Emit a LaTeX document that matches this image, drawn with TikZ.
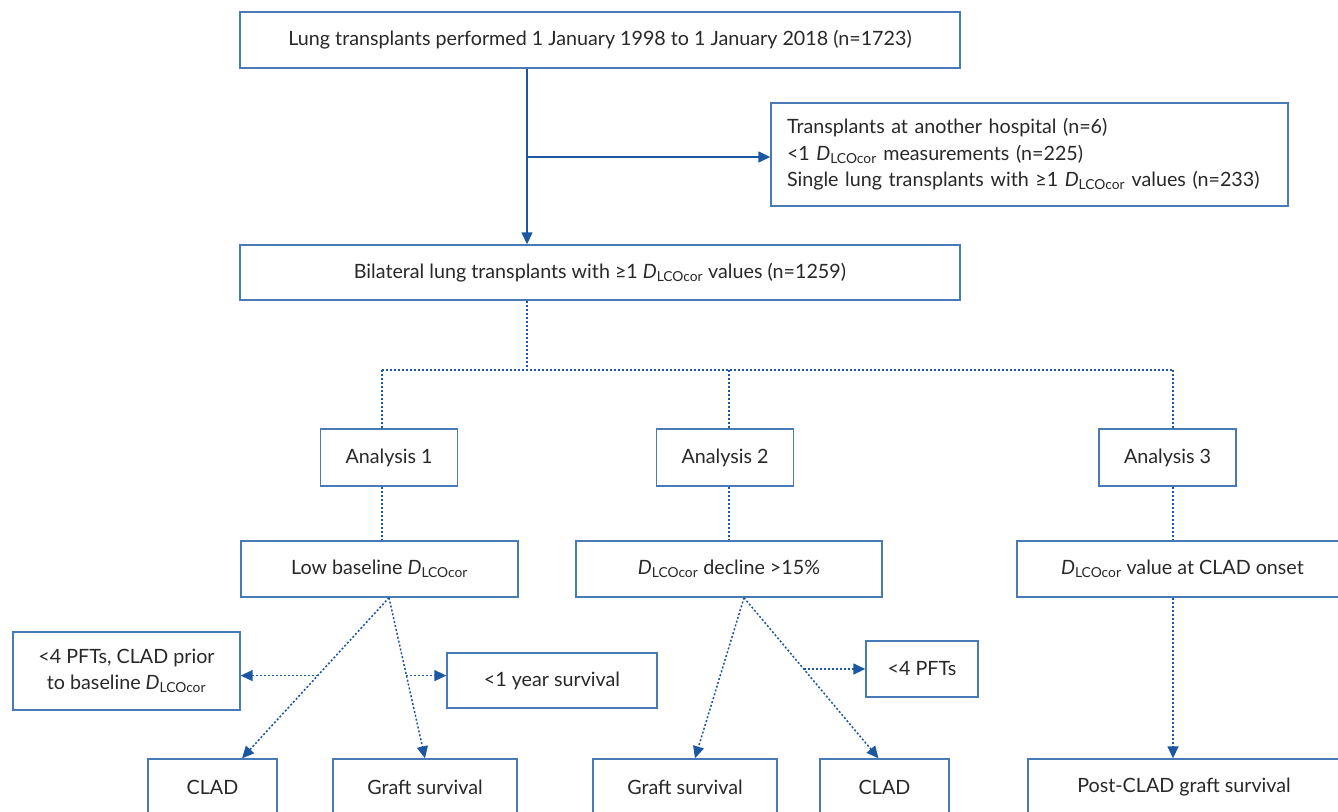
\documentclass[tikz,border=0pt]{standalone}
\usepackage{fontspec}
\setmainfont{Lato}
\usepackage{tikz}
\usetikzlibrary{arrows.meta}
\usetikzlibrary{positioning,calc}
\definecolor{boxblue}{RGB}{72,122,182}
\definecolor{arrowblue}{RGB}{28,88,162}
\definecolor{txtgray}{RGB}{40,40,40}
\newcommand{\dlco}{\textit{D}\textsubscript{LCOcor}}

\begin{document}
\begin{tikzpicture}[x=1pt,y=-1pt,
	box/.style={draw=boxblue,line width=1.4pt,fill=white,text=txtgray,inner sep=0pt,
		font=\fontsize{19.7}{26.5}\selectfont,align=center},
	flow/.style={draw=arrowblue,line width=1.4pt,-{Triangle[length=12pt,width=11pt]}},
	dotflow/.style={draw=arrowblue,line width=1.5pt,dash pattern=on 2pt off 2pt},
	dotarr/.style={dotflow,-{Triangle[length=12pt,width=11pt]}}]
			\clip (0,0) rectangle (1338,811);
			\fill[white] (0,0) rectangle (1338,811);
			% top part
			\node[box,minimum width=720,minimum height=56] (start) at (600,40) {Lung transplants performed 1 January 1998 to 1 January 2018 (n=1723)};
			\node[box,minimum width=517,minimum height=103,text width=485,align=left] (excl) at (1029.5,154.5) {Transplants at another hospital (n=6)\\
				<1 \dlco{} measurements (n=225)\\
				Single lung transplants with ≥1 \dlco{} values (n=233)};
			\node[box,minimum width=720,minimum height=55] (bil) at (600,272.5) {Bilateral lung transplants with ≥1 \dlco{} values (n=1259)};
			\coordinate (split) at (527,157);
			\coordinate (hub) at (527,370);
			\draw[flow,-] (start.south -| split) -- (split);
			\draw[flow] (split) -- (bil.north -| split);
			\draw[flow] (split) -- (split -| excl.west);
			% analyses
			\node[box,minimum width=137,minimum height=57] (an1) at (389,457.5) {Analysis 1};
			\node[box,minimum width=137,minimum height=57] (an2) at (725,457.5) {Analysis 2};
			\node[box,minimum width=137,minimum height=57] (an3) at (1167.5,457.5) {Analysis 3};
			\coordinate (t1) at (382,370);
			\coordinate (t2) at (729,370);
			\coordinate (t3) at (1173,370);
			\draw[dotflow] (bil.south -| hub) -- (hub);
			\draw[dotflow] (t1) -- (t3);
			\foreach \t/\a in {t1/an1,t2/an2,t3/an3}
			{
			\draw[dotflow] (\t) -- (\t |- \a.north);
			}
			% second row
			\node[box,minimum width=277,minimum height=56] (low) at (379.5,569) {Low baseline \dlco};
			\node[box,minimum width=306,minimum height=56] (decl) at (729,569) {\dlco{} decline >15\%};
			\node[box,minimum width=331,minimum height=56] (onset) at (1182.5,569) {\dlco{} value at CLAD onset};
			\foreach \t/\a/\b in {t1/an1/low,t2/an2/decl,t3/an3/onset}
			{
			\draw[dotflow] (\t |- \a.south) -- (\t |- \b.north);
			}
			% exclusions
			\node[box,minimum width=227,minimum height=78] (pftclad) at (126.5,671) {<4 PFTs, CLAD prior\\to baseline \dlco};
			\node[box,minimum width=210,minimum height=55] (yr1) at (552,680.5) {<1 year survival};
			\node[box,minimum width=112,minimum height=56] (pft4) at (922,669) {<4 PFTs};
			% outcomes
			\node[box,minimum width=129,minimum height=56] (clad1) at (212.5,787) {CLAD};
			\node[box,minimum width=184,minimum height=56] (graft1) at (425,787) {Graft survival};
			\node[box,minimum width=184,minimum height=56] (graft2) at (685,787) {Graft survival};
			\node[box,minimum width=129,minimum height=56] (clad2) at (884.5,787) {CLAD};
			\node[box,minimum width=312,minimum height=56] (post) at (1184,787) {Post-CLAD graft survival};
			\coordinate (lo) at ([xshift=9.5]low.south);
			\coordinate (de) at ([xshift=15]decl.south);
			\draw[dotarr] (lo) -- coordinate[pos=0.485] (m1) ([xshift=29.5]clad1.north);
			\draw[dotarr] (lo) -- coordinate[pos=0.485] (m2) (graft1.north);
			\draw[dotarr] (m1) -- (m1 -| pftclad.east);
			\draw[dotarr] (m2) -- (m2 -| yr1.west);
			\draw[dotarr] (de) -- ([xshift=10]graft2.north);
			\draw[dotarr] (de) -- coordinate[pos=0.444] (m3) ([xshift=-6]clad2.north);
			\draw[dotarr] (m3) -- (m3 -| pft4.west);
			\draw[dotarr] (t3 |- onset.south) -- (t3 |- post.north);
		\end{tikzpicture}
\end{document}
